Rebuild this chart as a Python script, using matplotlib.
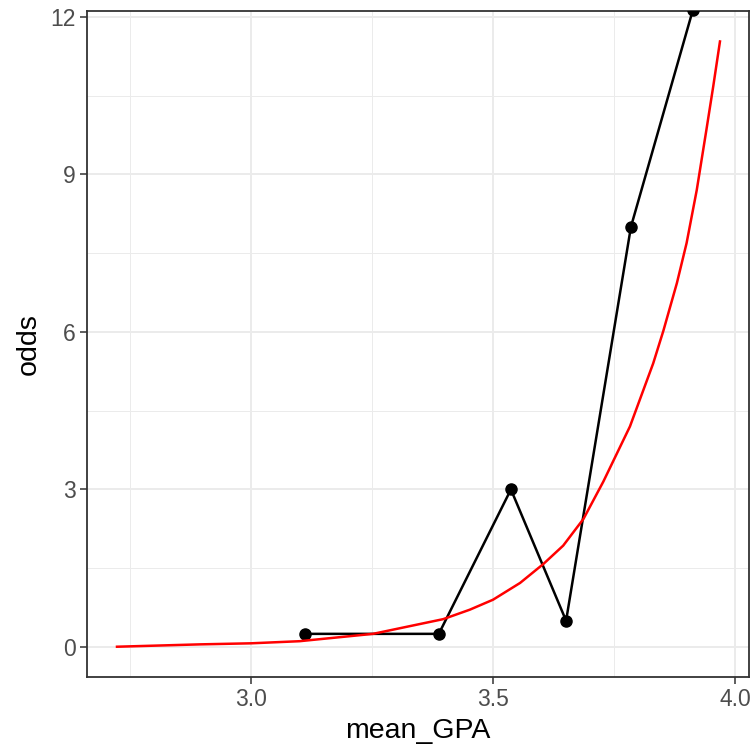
import numpy as np
import matplotlib.pyplot as plt
from matplotlib.ticker import MultipleLocator

plt.rcParams['font.family'] = ['Liberation Sans', 'DejaVu Sans']

# observed odds per GPA group
mean_gpa = [3.112, 3.388, 3.537, 3.651, 3.785, 3.913]
odds = [0.25, 0.25, 3.0, 0.5, 8.0, 12.13]

# fitted odds from the logistic model
fit_gpa = [2.723, 2.895, 3.0, 3.10, 3.252, 3.397, 3.452, 3.5, 3.556, 3.604,
           3.645, 3.687, 3.728, 3.783, 3.831, 3.852, 3.880, 3.900, 3.921,
           3.941, 3.955, 3.969]
fit_odds = [0.005, 0.05, 0.07, 0.11, 0.25, 0.53, 0.71, 0.90, 1.22, 1.58,
            1.93, 2.44, 3.15, 4.20, 5.40, 6.02, 6.93, 7.69, 8.70,
            9.85, 10.67, 11.53]

W, H = 751, 749
fig = plt.figure(figsize=(W / 100, H / 100), dpi=100)
ax = fig.add_axes([87 / W, (H - 676.5) / H, (749.3 - 87) / W, (676.5 - 11) / H])

ax.plot(mean_gpa, odds, color='black', lw=1.8, zorder=3)
ax.plot(mean_gpa, odds, 'o', color='black', ms=8, zorder=4)
ax.plot(fit_gpa, fit_odds, color='red', lw=1.8, zorder=5)

ax.set_xlim(2.661, 4.0296)
ax.set_ylim(-0.562, 12.11)

ax.xaxis.set_minor_locator(MultipleLocator(0.25))
ax.yaxis.set_minor_locator(MultipleLocator(1.5))
ax.set_xticks([3.0, 3.5, 4.0])
ax.set_xticklabels(['3.0', '3.5', '4.0'])
ax.set_yticks([0, 3, 6, 9, 12])
ax.set_yticklabels(['0', '3', '6', '9', '12'])

ax.grid(which='major', color='#EBEBEB', lw=1.4, zorder=0)
ax.grid(which='minor', color='#EBEBEB', lw=0.7, zorder=0)
ax.set_axisbelow(True)

for s in ax.spines.values():
    s.set_color('#333333')
    s.set_linewidth(1.3)

ax.tick_params(which='major', length=5, width=1.1, color='#333333',
               labelsize=16.5, labelcolor='#4D4D4D', pad=3)
ax.tick_params(which='minor', length=0)

ax.set_xlabel('mean_GPA', fontsize=20.5, labelpad=5)
ax.set_ylabel('odds', fontsize=20.5, labelpad=6)

fig.savefig('out.png', dpi=100)
